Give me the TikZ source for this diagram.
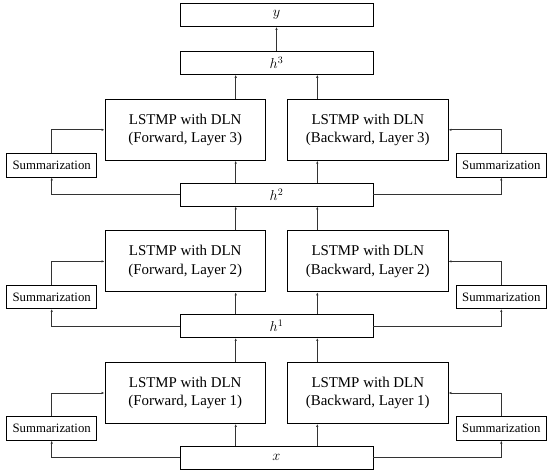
\documentclass[tikz,border=0pt]{standalone}
\usepackage{amsmath}
\usepackage{fontspec}
\setmainfont{Liberation Serif}
\usepackage{tikz}
\usetikzlibrary{arrows.meta}
\usetikzlibrary{positioning}

\tikzset{
    hbox/.style={draw, line width=0.8pt, minimum width=193pt, minimum height=23pt,
        inner sep=0pt, font=\fontsize{14.5}{16}\selectfont},
    lstm/.style={draw, line width=0.8pt, minimum width=160.5pt, minimum height=61pt,
        inner sep=0pt, align=center, font=\fontsize{14.9}{18.3}\selectfont},
    summ/.style={draw, line width=0.8pt, minimum width=90pt, minimum height=23.4pt,
        inner sep=0pt, font=\fontsize{12.8}{15}\selectfont},
    link/.style={->, draw=black!80, line width=0.9pt}
}

\begin{document}
\begin{tikzpicture}[x=1pt, y=1pt, >={Latex[length=3pt,width=2.4pt]}]
    \useasboundingbox (0,0) rectangle (547,471);
    % Hidden vectors
    \node [hbox] (x) at (276.5,13.3) {$x$};
    \foreach \i in {1,2,3}
        \node [hbox] (h\i) at (276.5,{13.3+131.6*\i}) {$h^{\i}$};
    \node [hbox] (y) at (276.5,456) {$y$};
    \draw [link] (h3) -- (y);
    % Columns of the arrows
    \coordinate (af) at (235.7,0);
    \coordinate (ab) at (317.3,0);
    % Layers
    \foreach \i/\lo in {1/x,2/h1,3/h2}
    {
    \node [lstm] (fw\i) at (185.2,{78+131.6*(\i-1)}) {LSTMP with DLN\\(Forward, Layer \i)};
    \node [lstm] (bw\i) at (367.8,{78+131.6*(\i-1)}) {LSTMP with DLN\\(Backward, Layer \i)};
    \node [summ] (sl\i) at (51.7,{42.5+131.6*(\i-1)}) {Summarization};
    \node [summ] (sr\i) at (501.3,{42.5+131.6*(\i-1)}) {Summarization};
    \draw [link] (\lo.north -| af) -- (fw\i.south -| af);
    \draw [link] (\lo.north -| ab) -- (bw\i.south -| ab);
    \draw [link] (fw\i.north -| af) -- (h\i.south -| af);
    \draw [link] (bw\i.north -| ab) -- (h\i.south -| ab);
    \draw [link] (\lo.west) -| (sl\i.south);
    \draw [link] (\lo.east) -| (sr\i.south);
    \draw [link] (sl\i.north) |- (fw\i.west);
    \draw [link] (sr\i.north) |- (bw\i.east);
    }
\end{tikzpicture}
\end{document}
